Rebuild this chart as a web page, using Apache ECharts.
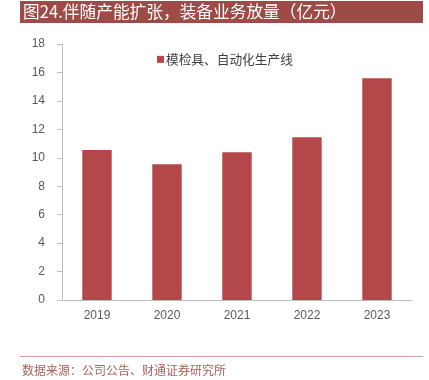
<!DOCTYPE html>
<html><head><meta charset="utf-8">
<script src="https://cdn.jsdelivr.net/npm/echarts@6/dist/echarts.min.js"></script>
<style>html,body{margin:0;padding:0;background:#fff}#c{width:429px;height:380px}</style>
</head><body><div id="c"></div>
<script>
var categories = ['2019', '2020', '2021', '2022', '2023'];
var values = [10.55, 9.54, 10.39, 11.44, 15.59];
var seriesName = '模检具、自动化生产线';
var titleText = '图24.伴随产能扩张，装备业务放量（亿元）';
var sourceText = '数据来源：公司公告、财通证券研究所';

var chart = echarts.init(document.getElementById('c'), null, {renderer: 'canvas'});
var font = '"Noto Sans CJK SC", sans-serif';
chart.setOption({
  animation: false,
  grid: {left: 62, right: 17, top: 44, bottom: 80},
  legend: {
    data: [seriesName], left: 157, top: 53, padding: 0, itemWidth: 7, itemHeight: 7, itemGap: 4,
    icon: 'rect',
    textStyle: {fontFamily: font, fontSize: 12.7, color: '#404040', padding: [0, 0, 0, -3]}
  },
  xAxis: {
    type: 'category', data: categories,
    axisLine: {lineStyle: {color: '#bfbfbf', width: 1}},
    axisTick: {show: false},
    axisLabel: {color: '#595959', fontSize: 12, fontFamily: 'Liberation Sans, Arial, sans-serif', margin: 10}
  },
  yAxis: {
    type: 'value', min: 0, max: 18, interval: 2,
    axisLine: {show: true, lineStyle: {color: '#bfbfbf'}},
    axisTick: {show: true, length: 5, lineStyle: {color: '#bfbfbf'}},
    splitLine: {show: false},
    axisLabel: {color: '#595959', fontSize: 12, fontFamily: 'Liberation Sans, Arial, sans-serif', margin: 17}
  },
  series: [{
    name: seriesName, type: 'bar', data: values, barWidth: '42%',
    itemStyle: {color: '#b4474a'}
  }],
  graphic: [
    {type: 'rect', shape: {x: 20, y: 1, width: 403, height: 22}, style: {fill: '#9d4b47'}},
    {type: 'text', left: 23, top: 3, style: {text: titleText, fill: '#ffffff', font: '16.7px ' + font}},
    {type: 'line', shape: {x1: 20, y1: 356.5, x2: 423, y2: 356.5}, style: {stroke: '#d2a09e', lineWidth: 1}},
    {type: 'text', left: 22, top: 364, style: {text: sourceText, fill: '#a9625e', font: '12px ' + font}}
  ]
});
</script></body></html>
